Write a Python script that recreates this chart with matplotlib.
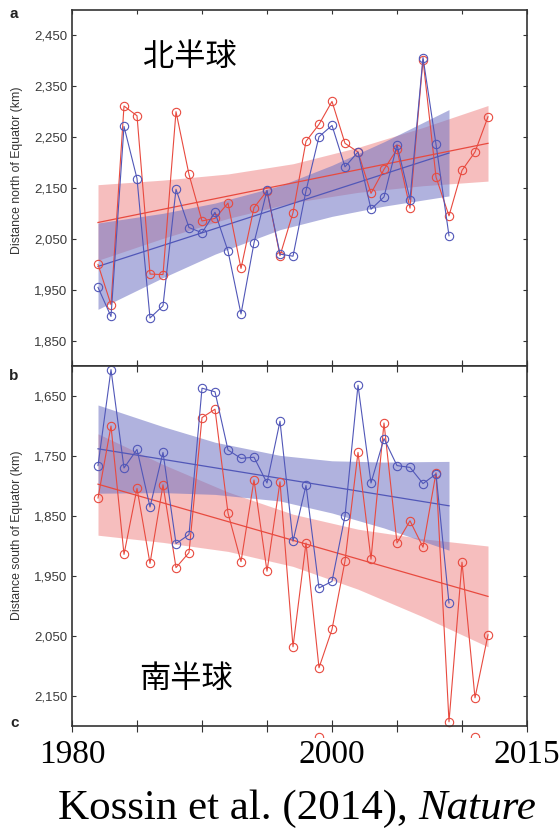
import numpy as np
import matplotlib
matplotlib.use('Agg')
from matplotlib import pyplot as plt
from matplotlib.ticker import FuncFormatter

# ---- data ----
years_red = np.arange(1982, 2013)
years_blue = np.arange(1982, 2010)

# a: northern hemisphere (km north of Equator)
red_north = [2001, 1922, 2311, 2292, 1982, 1981, 2300, 2177, 2086, 2091, 2121,
             1993, 2112, 2145, 2018, 2102, 2242, 2275, 2320, 2238, 2221, 2140,
             2187, 2226, 2111, 2402, 2172, 2096, 2185, 2221, 2290]
blue_north = [1956, 1899, 2271, 2169, 1896, 1920, 2148, 2073, 2063, 2103, 2027,
              1904, 2043, 2146, 2021, 2017, 2145, 2251, 2273, 2192, 2221, 2109,
              2133, 2235, 2128, 2406, 2236, 2057]

# b: southern hemisphere (km south of Equator)
red_south = [1820, 1700, 1914, 1804, 1929, 1798, 1936, 1911, 1686, 1672, 1845,
             1926, 1790, 1942, 1793, 2068, 1895, 2103, 2039, 1925, 1744, 1922,
             1695, 1895, 1858, 1902, 1778, 2193, 1927, 2153, 2048]
blue_south = [1766, 1606, 1770, 1739, 1835, 1744, 1896, 1881, 1637, 1643, 1740,
              1754, 1752, 1795, 1692, 1892, 1799, 1970, 1959, 1850, 1632, 1795,
              1721, 1766, 1769, 1796, 1780, 1995]

# trend lines (end points) and confidence bands
trend_red_x = [1982, 2012]
trend_blue_x = [1982, 2009]
trend_red_north = [2083, 2238]
trend_blue_north = [1997, 2219]
trend_red_south = [1797, 1984]
trend_blue_south = [1738, 1833]

band_red_x = [1982, 1987, 1992, 1997, 2002, 2007, 2012]
band_blue_x = [1982, 1987, 1991, 1996, 2000, 2004, 2009]
band_red_north_hi = [2157, 2166, 2178, 2198, 2230, 2269, 2312]
band_red_north_lo = [2009, 2052, 2091, 2122, 2142, 2155, 2164]
band_blue_north_hi = [2082, 2101, 2121, 2155, 2195, 2241, 2304]
band_blue_north_lo = [1913, 1975, 2021, 2069, 2095, 2115, 2135]
band_red_south_hi = [1713, 1764, 1810, 1847, 1872, 1888, 1900]
band_red_south_lo = [1882, 1894, 1909, 1934, 1972, 2018, 2068]
band_blue_south_hi = [1665, 1701, 1727, 1749, 1758, 1760, 1759]
band_blue_south_lo = [1812, 1811, 1814, 1825, 1845, 1870, 1907]

# panel c: only the tops of two markers are visible
c_years = [1999, 2011]
c_vals = [0, 0]

yticks_north = [1850, 1950, 2050, 2150, 2250, 2350, 2450]
yticks_south = [1650, 1750, 1850, 1950, 2050, 2150]
xticks = [1980, 1985, 1990, 1995, 2000, 2005, 2010, 2015]
xtick_labels = ['1980', '', '', '', '2000', '', '', '2015']

RED = '#e84a3f'
BLUE = '#5157b8'
RED_FILL = '#f08a8a'
BLUE_FILL = '#6f74c4'
DARK = '#333333'

W, H = 559, 831
fig = plt.figure(figsize=(W / 100, H / 100), dpi=100)


def px_axes(left, top, right, bottom):
    return fig.add_axes([left / W, 1 - bottom / H, (right - left) / W, (bottom - top) / H])


def style(ax):
    for s in ax.spines.values():
        s.set_color(DARK)
        s.set_linewidth(1.2)
    ax.tick_params(direction='in', length=3, width=0.8, colors=DARK,
                   top=True, right=True, labelsize=9.5, labelcolor='#3a3a3a')
    ax.yaxis.set_major_formatter(FuncFormatter(lambda v, p: '{:,.0f}'.format(v)))
    for lab in ax.get_yticklabels():
        lab.set_family('Liberation Sans')


def draw(ax, red, blue, tr, tb, rhi, rlo, bhi, blo):
    ax.fill_between(band_red_x, rlo, rhi, color=RED_FILL, alpha=0.55, lw=0)
    ax.fill_between(band_blue_x, blo, bhi, color=BLUE_FILL, alpha=0.55, lw=0)
    ax.plot(trend_red_x, tr, color=RED, lw=0.9)
    ax.plot(trend_blue_x, tb, color=BLUE, lw=0.9)
    ax.plot(years_red, red, color=RED, lw=0.8, marker='o', ms=6, mfc='none',
            mew=0.8, clip_on=False)
    ax.plot(years_blue, blue, color=BLUE, lw=0.8, marker='o', ms=6, mfc='none',
            mew=0.8, clip_on=False)
    ax.set_xlim(1980, 2015)
    ax.set_xticks(xticks)


# panel a
ax1 = px_axes(72, 9.5, 527, 365.5)
draw(ax1, red_north, blue_north, trend_red_north, trend_blue_north,
     band_red_north_hi, band_red_north_lo, band_blue_north_hi, band_blue_north_lo)
ax1.set_ylim(1803, 2500)
ax1.set_yticks(yticks_north)
ax1.set_xticklabels([])
style(ax1)

# panel b (inverted axis)
ax2 = px_axes(72, 366, 527, 726)
draw(ax2, red_south, blue_south, trend_red_south, trend_blue_south,
     band_red_south_hi, band_red_south_lo, band_blue_south_hi, band_blue_south_lo)
ax2.set_ylim(2200, 1600)
ax2.set_yticks(yticks_south)
style(ax2)
ax2.tick_params(axis='x', direction='inout', length=8, pad=6)
ax2.set_xticklabels(xtick_labels, family='Liberation Serif', fontsize=24, color='black')

# panel c remnants
ax3 = px_axes(72, 727, 527, 737)
ax3.plot(c_years, c_vals, ls='none', marker='o', ms=6, mfc='none', mew=0.8, color=RED)
ax3.set_xlim(1980, 2015)
ax3.set_ylim(0, 1)
ax3.axis('off')


# labels
def ftext(x, y, s, **kw):
    fig.text(x / W, 1 - y / H, s, **kw)


ftext(17, 170, 'Distance north of Equator (km)', rotation=90, ha='center', va='center',
      fontsize=8.8, color=DARK, family='Liberation Sans')
ftext(17, 535, 'Distance south of Equator (km)', rotation=90, ha='center', va='center',
      fontsize=8.8, color=DARK, family='Liberation Sans')
for s, x, y in [('a', 13.5, 14), ('b', 13.5, 376), ('c', 15, 723)]:
    ftext(x, y, s, ha='center', va='center', fontsize=11, fontweight='bold',
          color='#222222', family='Liberation Sans')

ftext(190, 57, '北半球', ha='center', va='center', fontsize=22.5,
      family=['Noto Sans CJK SC', 'DejaVu Sans'])
ftext(186, 679, '南半球', ha='center', va='center', fontsize=22.5,
      family=['Noto Sans CJK SC', 'DejaVu Sans'])

ftext(408, 819, 'Kossin et al. (2014),', ha='right', va='baseline', fontsize=31,
      family='Liberation Serif')
ftext(418, 819, 'Nature', ha='left', va='baseline', fontsize=31,
      family='Liberation Serif', style='italic')

fig.savefig('out.png', dpi=100)
